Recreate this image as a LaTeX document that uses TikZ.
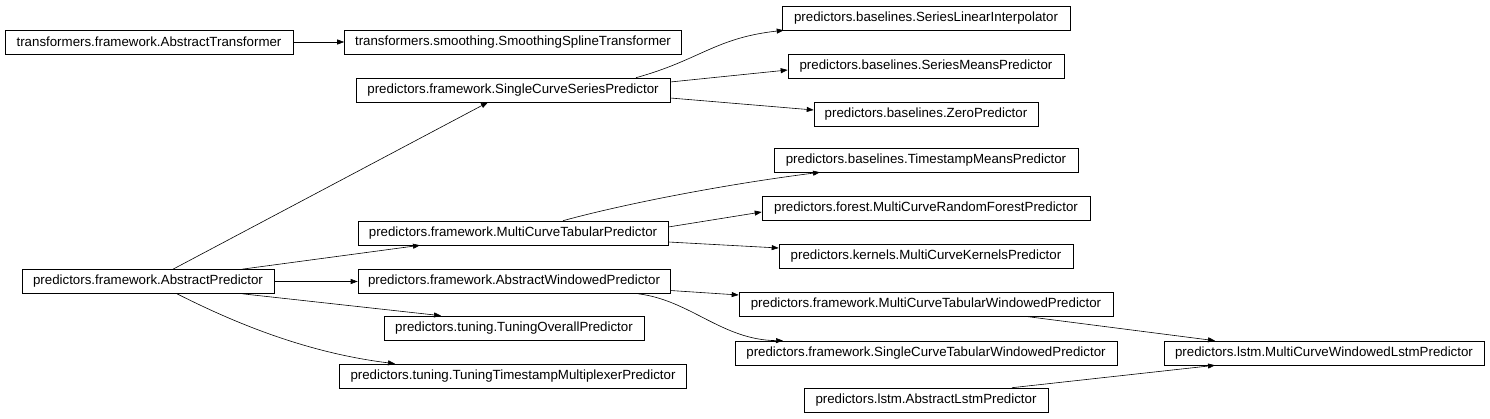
\documentclass[tikz,border=0pt]{standalone}
\usepackage{fontspec}
\setmainfont{Liberation Sans}
\usetikzlibrary{arrows.meta,calc}
\begin{document}
\begin{tikzpicture}[x=1pt,y=-1pt,
  cls/.style={draw,line width=0.6pt,minimum height=24pt,inner sep=0pt,font=\fontsize{13.3}{15}\selectfont},
  edge/.style={line width=0.6pt,-{Triangle[length=7pt,width=5pt]}}]
\useasboundingbox (0,0) rectangle (1490,419);
\node[cls,minimum width=288pt] (at) at (149,42) {transformers.framework.AbstractTransformer};
\node[cls,minimum width=337pt] (sst) at (513,42) {transformers.smoothing.SmoothingSplineTransformer};
\node[cls,minimum width=288pt] (sli) at (926,18) {predictors.baselines.SeriesLinearInterpolator};
\node[cls,minimum width=276pt] (smp) at (926,66) {predictors.baselines.SeriesMeansPredictor};
\node[cls,minimum width=224pt] (zp) at (926,114) {predictors.baselines.ZeroPredictor};
\node[cls,minimum width=314pt] (scs) at (513,90) {predictors.framework.SingleCurveSeriesPredictor};
\node[cls,minimum width=304pt] (tmp) at (926,160) {predictors.baselines.TimestampMeansPredictor};
\node[cls,minimum width=328pt] (rf) at (926,208) {predictors.forest.MultiCurveRandomForestPredictor};
\node[cls,minimum width=294pt] (kp) at (926,256) {predictors.kernels.MultiCurveKernelsPredictor};
\node[cls,minimum width=310pt] (mct) at (513,233) {predictors.framework.MultiCurveTabularPredictor};
\node[cls,minimum width=252pt] (ap) at (148,281.5) {predictors.framework.AbstractPredictor};
\node[cls,minimum width=312pt] (aw) at (514,281.5) {predictors.framework.AbstractWindowedPredictor};
\node[cls,minimum width=260pt] (to) at (514,328) {predictors.tuning.TuningOverallPredictor};
\node[cls,minimum width=347pt] (ttm) at (513,376) {predictors.tuning.TuningTimestampMultiplexerPredictor};
\node[cls,minimum width=374pt] (mctw) at (926,304) {predictors.framework.MultiCurveTabularWindowedPredictor};
\node[cls,minimum width=382pt] (sctw) at (926,353) {predictors.framework.SingleCurveTabularWindowedPredictor};
\node[cls,minimum width=244pt] (al) at (926,400) {predictors.lstm.AbstractLstmPredictor};
\node[cls,minimum width=320pt] (lstm) at (1324,353) {predictors.lstm.MultiCurveWindowedLstmPredictor};

\draw[edge] (at.east) -- (sst.west);
\draw[edge] ([xshift=123pt]scs.north) .. controls (700,60) and (715,38) .. ([xshift=2pt]sli.south west);
\draw[edge] ([yshift=8pt]scs.east) -- ([yshift=-4pt]smp.west);
\draw[edge] ([yshift=-8pt]scs.east) -- ([yshift=4pt]zp.west);
\draw[edge] ([xshift=25pt]ap.north) -- ([xshift=-25pt]scs.south);
\draw[edge] ([xshift=94pt]ap.north) -- ([xshift=-93pt]mct.south);
\draw[edge] (ap.east) -- (aw.west);
\draw[edge] ([xshift=-32pt]ap.south east) -- ([xshift=-73pt]to.north);
\draw[edge] ([xshift=29pt]ap.south) .. controls (225,318) and (300,352) .. ([xshift=-118pt]ttm.north);
\draw[edge] ([xshift=50pt]mct.north) .. controls (620,205) and (720,185) .. ([xshift=-106pt]tmp.south);
\draw[edge] ([yshift=6pt]mct.east) -- ([yshift=-4pt]rf.west);
\draw[edge] ([yshift=-9pt]mct.east) -- ([yshift=8pt]kp.west);
\draw[edge] ([yshift=-9pt]aw.east) -- ([yshift=9pt]mctw.west);
\draw[edge] ([xshift=124pt]aw.south) .. controls (690,300) and (722,340) .. ([xshift=-143pt]sctw.north);
\draw[edge] ([xshift=99pt]mctw.south) -- ([xshift=-109pt]lstm.north);
\draw[edge] ([xshift=86pt]al.north) -- ([xshift=-109pt]lstm.south);
\end{tikzpicture}
\end{document}
